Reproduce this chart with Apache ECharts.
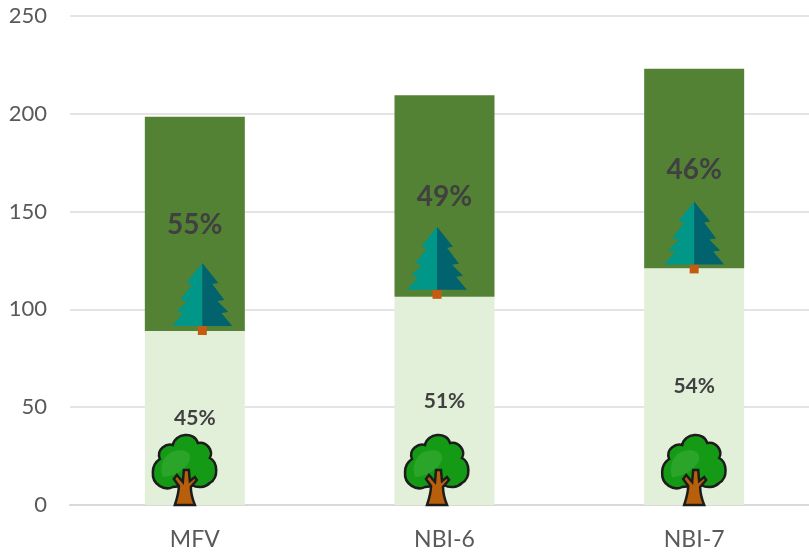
<!DOCTYPE html>
<html>
<head>
<meta charset="utf-8">
<script src="https://cdn.jsdelivr.net/npm/echarts@6/dist/echarts.min.js"></script>
<style>html,body{margin:0;padding:0;background:#fff}#c{width:809px;height:552px}</style>
</head>
<body>
<div id="c"></div>
<script>
const categories = ['MFV', 'NBI-6', 'NBI-7'];
const lowerValues = [89, 106.5, 121];
const upperValues = [109.5, 103, 102];
const lowerShare = ['45%', '51%', '54%'];
const upperShare = ['55%', '49%', '46%'];
const pineX = [0.53, 1.47, 2.5];
const pineY = [91.5, 110, 123];
const oakX = [0.46, 1.47, 2.5];
const oakY = [0, 0, 0];

const pineLeft = 'M0 -63 L-16 -43 L-10 -42 L-22 -26 L-15 -25 L-26 -14 L-19 -13 L-30 0 L0 0 Z';
const pineRight = 'M0 -63 L16 -43 L10 -42 L22 -26 L15 -25 L26 -14 L19 -13 L30 0 L0 0 Z';
const pineTrunk = 'M-4.5 0 L4.5 0 L4.5 9 L-4.5 9 Z';
const oakCrown = 'M-12 -18 C-20 -14 -33 -20 -32 -33 C-32 -40 -28 -44 -25 -46 C-29 -56 -18 -62 -12 -60 C-10 -72 10 -74 13 -62 C22 -64 29 -54 25 -47 C33 -43 34 -27 25 -22 C20 -17 12 -17 7 -20 Z';
const oakShine = 'M-22 -28 C-26 -40 -20 -52 -10 -54 C-2 -56 6 -54 5 -46 C4 -38 -10 -28 -22 -28 Z';
const oakTrunk = 'M-10 0 C-8 -6 -6 -12 -6 -19 L-11 -26 L-8 -30 L-2 -23 L-1 -35 L4 -35 L5 -24 L10 -28 L12 -25 L6 -18 C6 -10 8 -5 10 0 Z';

function piece(d, style) {
  return { type: 'path', shape: { pathData: d }, style };
}
function iconSeries(xs, ys, pieces) {
  return {
    type: 'custom', xAxisIndex: 1, yAxisIndex: 0, z: 5, clip: false, silent: true,
    data: xs.map((x, i) => [x, ys[i]]),
    renderItem(params, api) {
      const p = api.coord([api.value(0), api.value(1)]);
      return { type: 'group', x: p[0], y: p[1], children: pieces.map(o => piece(o.d, o.style)) };
    }
  };
}

const chart = echarts.init(document.getElementById('c'), null, { renderer: 'canvas' });
const fontFamily = 'Lato, "Open Sans", sans-serif';
chart.setOption({
  animation: false,
  backgroundColor: '#fff',
  grid: { left: 70, top: 16, width: 749, height: 489, containLabel: false, outerBoundsMode: 'none' },
  xAxis: [
    {
      type: 'category', data: categories,
      axisLine: { show: true, lineStyle: { color: '#d9d9d9', width: 2 } },
      axisTick: { show: false },
      axisLabel: { color: '#595959', fontSize: 23, fontFamily, margin: 23 }
    },
    { type: 'value', min: 0, max: 3, show: false, splitLine: { show: false } }
  ],
  yAxis: {
    type: 'value', min: 0, max: 250, interval: 50,
    axisLine: { show: false }, axisTick: { show: false },
    splitLine: { lineStyle: { color: '#e4e4e4', width: 2 } },
    axisLabel: { color: '#595959', fontSize: 22, fontFamily, margin: 23 }
  },
  series: [
    {
      type: 'bar', stack: 'a', data: lowerValues, barWidth: 100,
      itemStyle: { color: '#e2f0d9' },
      label: {
        show: true, position: 'inside', color: '#404040', fontWeight: 'bold',
        fontSize: 21, fontFamily, formatter: p => lowerShare[p.dataIndex]
      }
    },
    {
      type: 'bar', stack: 'a', data: upperValues, barWidth: 100,
      itemStyle: { color: '#548235' },
      label: {
        show: true, position: 'inside', offset: [0, 1], color: '#404040', fontWeight: 'bold',
        fontSize: 28, fontFamily, formatter: p => upperShare[p.dataIndex]
      }
    },
    iconSeries(pineX, pineY, [
      { d: pineTrunk, style: { fill: '#c55a11' } },
      { d: pineLeft, style: { fill: '#009688' } },
      { d: pineRight, style: { fill: '#00636e' } }
    ]),
    iconSeries(oakX, oakY, [
      { d: oakCrown, style: { fill: '#149a14', stroke: '#1c1c1c', lineWidth: 2.5 } },
      { d: oakShine, style: { fill: '#2aa52a' } },
      { d: oakTrunk, style: { fill: '#b85f0c', stroke: '#1c1c1c', lineWidth: 2.5 } }
    ])
  ]
});
</script>
</body>
</html>
